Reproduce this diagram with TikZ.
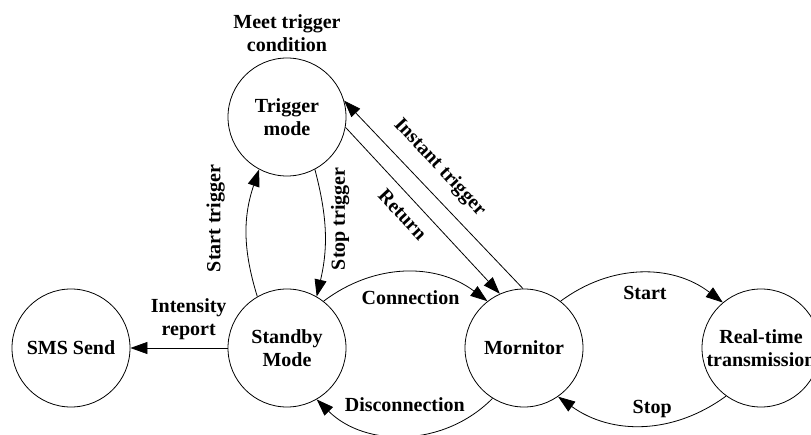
\documentclass[tikz,border=0pt]{standalone}
\usepackage{fontspec}
\setmainfont{Liberation Serif}
\usetikzlibrary{arrows.meta,positioning}

\tikzset{
  state/.style={circle, draw, line width=0.8pt, minimum size=118pt, inner sep=0pt, align=center},
  trans/.style={-{Triangle[length=17pt,width=12pt]}, line width=0.8pt},
}

\begin{document}
\begin{tikzpicture}[x=1pt, y=1pt, font=\fontsize{20}{23}\selectfont\bfseries]
    \clip (0, 0) rectangle (811, 434);

    \node[state] (trig) at (287, 317) {Trigger\\mode};
    \node[state] (standby) at (287, 86) {Standby\\Mode};
    \node[state] (sms) at (71, 86) {SMS Send};
    \node[state] (mon) at (524, 86) {Mornitor};
    \node[state] (rt) at (761, 86) {Real-time\\transmission};
    \node[above=2pt of trig, align=center] (cond) {Meet trigger\\condition};

    \draw[trans] (standby.west) -- (sms.east) node [pos=0.4, above=5pt, align=center] {Intensity\\report};

    \draw[trans] (standby.120) to[bend left=18] node [pos=0.62, xshift=-32pt, rotate=90] {Start trigger} (trig.242);
    \draw[trans] (trig.298) to[bend left=14] node [pos=0.38, xshift=16pt, rotate=90] {Stop trigger} (standby.60);

    \draw[trans] (mon.91) -- (trig.16) node [midway, xshift=6pt, yshift=27pt, rotate=-47] {Instant trigger};
    \draw[trans] (trig.350) -- (mon.114) node [midway, xshift=-20pt, yshift=-4pt, rotate=-47] {Return};

    \draw[trans] (standby.52) to[bend left=37] node [below=15pt, xshift=5pt] {Connection} (mon.128);
    \draw[trans] (mon.238) to[bend left=45] node [above=20pt] {Disconnection} (standby.300);

    \draw[trans] (mon.52) to[bend left=37] node [below=9pt, xshift=3pt] {Start} (rt.130);
    \draw[trans] (rt.234) to[bend left=36] node [above=4pt, xshift=10pt] {Stop} (mon.305);
\end{tikzpicture}
\end{document}
